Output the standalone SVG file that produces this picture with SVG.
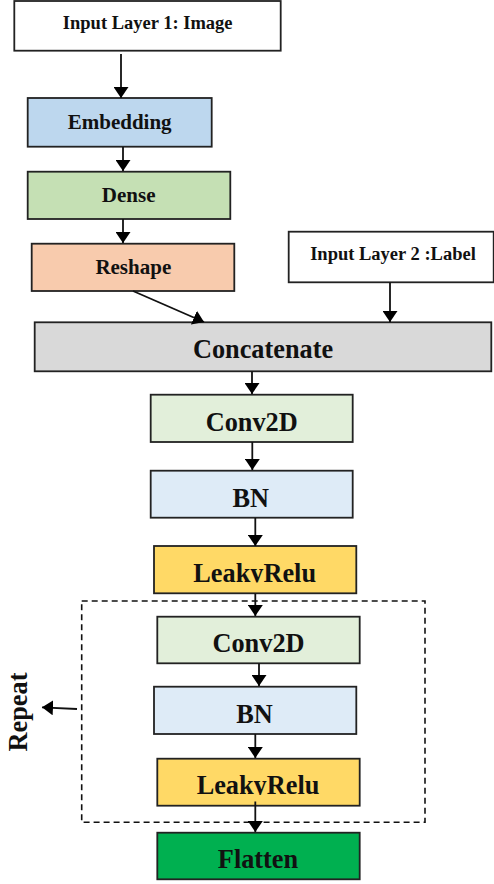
<svg xmlns="http://www.w3.org/2000/svg" width="494" height="884" viewBox="0 0 494 884">
<style>
.box{stroke:#222;stroke-width:1.8}
.t{font-family:"Liberation Serif","Times New Roman",serif;font-weight:bold;fill:#111;text-anchor:middle}
.s{font-size:18.5px}
.m{font-size:21px}
.l{font-size:26.3px}
.c{stroke:#111;stroke-width:1.8;fill:none;marker-end:url(#ah)}
</style>
<defs>
<marker id="ah" markerUnits="userSpaceOnUse" markerWidth="12" markerHeight="15" refX="11" refY="7.5" orient="auto">
<path d="M0,0 L11,7.5 L0,15 z" fill="#000"/>
</marker>
<clipPath id="cl1"><rect x="150" y="540" width="210" height="42.5"/></clipPath>
<clipPath id="cl2"><rect x="150" y="750" width="210" height="45"/></clipPath>
</defs>
<rect x="0" y="0" width="494" height="884" fill="#fff"/>

<g id="repeat-group">
<rect x="81.7" y="601" width="343.3" height="221.3" fill="none" stroke="#111" stroke-width="1.6" stroke-dasharray="6,4"/>
<text class="t l" transform="translate(27,712) rotate(-90)">Repeat</text>
</g>

<g id="input1"><rect class="box" x="14.3" y="1" width="266.4" height="49.7" fill="#fff"/><text class="t s" x="147.7" y="29">Input Layer 1: Image</text></g>
<g id="embedding"><rect class="box" x="27.7" y="98" width="184" height="48.7" fill="#BDD7EE"/><text class="t m" x="119.7" y="129">Embedding</text></g>
<g id="dense"><rect class="box" x="27.7" y="171.7" width="202.6" height="47.3" fill="#C5E0B4"/><text class="t m" x="128.7" y="201.7">Dense</text></g>
<g id="reshape"><rect class="box" x="31.7" y="243.7" width="202.6" height="47.3" fill="#F8CBAD"/><text class="t m" x="133.3" y="274">Reshape</text></g>
<g id="input2"><rect class="box" x="288.7" y="231.7" width="205" height="50.6" fill="#fff"/><text class="t s" x="393" y="260">Input Layer 2 :Label</text></g>
<g id="concatenate"><rect class="box" x="34.7" y="322.3" width="456.6" height="49" fill="#D9D9D9"/><text class="t l" x="263" y="358">Concatenate</text></g>
<g id="conv2d-1"><rect class="box" x="150.7" y="394.7" width="202" height="47.3" fill="#E2EFDA"/><text class="t l" x="251.7" y="430.7">Conv2D</text></g>
<g id="bn-1"><rect class="box" x="150.7" y="470.7" width="202" height="47" fill="#DEEBF7"/><text class="t l" x="250.8" y="506.7">BN</text></g>
<g id="leakyrelu-1"><rect class="box" x="154" y="546" width="202.3" height="47.3" fill="#FFD966"/><text class="t l" x="254.7" y="581.7" clip-path="url(#cl1)">LeakyRelu</text></g>
<g id="conv2d-2"><rect class="box" x="157.3" y="616.7" width="202.4" height="46.6" fill="#E2EFDA"/><text class="t l" x="258.5" y="651.7">Conv2D</text></g>
<g id="bn-2"><rect class="box" x="154" y="686.7" width="202.3" height="47.3" fill="#DEEBF7"/><text class="t l" x="254.5" y="722.7">BN</text></g>
<g id="leakyrelu-2"><rect class="box" x="157.3" y="758.7" width="202.4" height="47" fill="#FFD966"/><text class="t l" x="258" y="794.3" clip-path="url(#cl2)">LeakyRelu</text></g>
<g id="flatten"><rect class="box" x="157.3" y="832.7" width="202.4" height="46.6" fill="#00B050"/><text class="t l" x="258" y="868.3">Flatten</text></g>

<g id="connectors">
<line class="c" x1="121" y1="54" x2="121" y2="98"/>
<line class="c" x1="123" y1="147" x2="123" y2="171"/>
<line class="c" x1="123" y1="219" x2="123" y2="243"/>
<line class="c" x1="133" y1="291" x2="204" y2="322"/>
<line class="c" x1="390" y1="282.5" x2="390" y2="322"/>
<line class="c" x1="252" y1="371.5" x2="252" y2="394"/>
<line class="c" x1="252.3" y1="442" x2="252.3" y2="470"/>
<line class="c" x1="255.3" y1="518" x2="255.3" y2="546"/>
<line class="c" x1="255.3" y1="593.5" x2="255.3" y2="616"/>
<line class="c" x1="259" y1="663.5" x2="259" y2="686"/>
<line class="c" x1="255.3" y1="734" x2="255.3" y2="758"/>
<line class="c" x1="255.3" y1="801.5" x2="255.3" y2="832"/>
<line class="c" x1="77" y1="709" x2="42" y2="707.3"/>
</g>
</svg>
